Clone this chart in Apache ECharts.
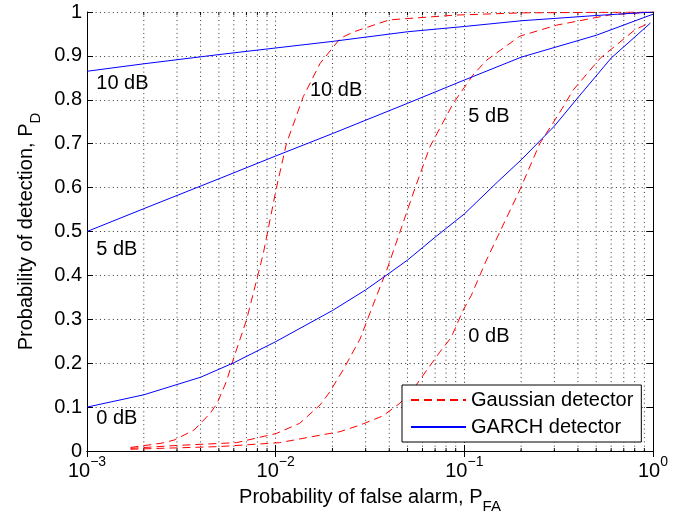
<!DOCTYPE html>
<html>
<head>
<meta charset="utf-8">
<script src="https://cdn.jsdelivr.net/npm/echarts@6/dist/echarts.min.js"></script>
<style>html,body{margin:0;padding:0;background:#fff}#c{width:685px;height:520px}</style>
</head>
<body>
<div id="c"></div>
<script>
// ---- data ----
const garch10X = [0.001,0.002,0.005,0.01,0.02,0.05,0.1,0.2,0.5,1];
const garch10Y = [0.865,0.882,0.903,0.918,0.933,0.955,0.967,0.980,0.992,1.0];
const garch5X  = [0.001,0.002,0.005,0.01,0.02,0.05,0.1,0.2,0.5,1];
const garch5Y  = [0.5,0.552,0.62,0.672,0.723,0.792,0.845,0.897,0.947,0.995];
const garch0X  = [0.001,0.002,0.004,0.006,0.01,0.02,0.03,0.04,0.05,0.07,0.1,0.15,0.2,0.3,0.4,0.6,0.97];
const garch0Y  = [0.1,0.128,0.168,0.201,0.249,0.32,0.367,0.405,0.435,0.487,0.54,0.613,0.663,0.74,0.805,0.895,0.975];

const gauss10X = [0.0017,0.0025,0.0029,0.0037,0.0045,0.0049,0.0055,0.0059,0.007,0.0081,0.0086,0.0101,0.0114,0.014,0.0172,0.022,0.026,0.04,0.09,0.2,1];
const gauss10Y = [0.008,0.018,0.025,0.048,0.086,0.109,0.16,0.203,0.298,0.405,0.45,0.6,0.7,0.807,0.883,0.94,0.955,0.982,0.993,0.998,1.0];
const gauss5X  = [0.0017,0.0031,0.0062,0.0101,0.0134,0.0172,0.0194,0.021,0.0228,0.028,0.0336,0.0388,0.0466,0.0547,0.0657,0.0873,0.111,0.131,0.197,0.308,0.6,1];
const gauss5Y  = [0.006,0.013,0.019,0.04,0.063,0.105,0.135,0.16,0.185,0.255,0.344,0.412,0.511,0.598,0.693,0.792,0.856,0.89,0.945,0.97,0.994,1.0];
const gauss0X  = [0.0017,0.005,0.0105,0.0172,0.0219,0.028,0.037,0.0456,0.0559,0.074,0.085,0.0986,0.109,0.131,0.197,0.251,0.33,0.377,0.526,0.805,0.96];
const gauss0Y  = [0.004,0.01,0.019,0.036,0.044,0.059,0.08,0.109,0.152,0.225,0.258,0.321,0.355,0.435,0.595,0.70,0.78,0.822,0.895,0.96,0.975];

const annoX    = [0.00112,0.00112,0.00112,0.0152,0.105,0.105];
const annoY    = [0.837,0.46,0.073,0.822,0.761,0.261];
const annoText = ['10 dB','5 dB','0 dB','10 dB','5 dB','0 dB'];

const minorTicks = [0.002,0.003,0.004,0.005,0.006,0.007,0.008,0.009,
                    0.02,0.03,0.04,0.05,0.06,0.07,0.08,0.09,
                    0.2,0.3,0.4,0.5,0.6,0.7,0.8,0.9];
const legendNames = ['Gaussian detector','GARCH detector'];

// ---- chart ----
const FONT = 'Liberation Sans';
const zip = (xs, ys) => xs.map((x, i) => [x, ys[i]]);
const chart = echarts.init(document.getElementById('c'), null, {renderer: 'canvas'});

const gaussStyle = {color: '#ff0000', width: 1, type: [8, 5]};
const garchStyle = {color: '#0000ff', width: 1, type: 'solid'};
function lineSeries(name, xs, ys, style) {
  return {
    name: name, type: 'line', data: zip(xs, ys), showSymbol: false, symbol: 'none',
    lineStyle: style, itemStyle: {color: style.color}, smooth: false,
    z: 3, silent: true
  };
}

const dotted = {color: '#333', width: 1, type: [1, 3.3]};

const option = {
  animation: false,
  textStyle: {fontFamily: FONT},
  grid: {left: 87, right: 32, top: 12, bottom: 69},
  xAxis: [{
    type: 'log', logBase: 10, min: 0.001, max: 1, position: 'bottom',
    axisLine: {show: true, lineStyle: {color: '#000', width: 1}},
    axisTick: {show: true, inside: true, length: 6, lineStyle: {color: '#000'}},
    splitLine: {show: true, lineStyle: dotted},
    axisLabel: {
      show: true, margin: 8, showMinLabel: true, showMaxLabel: true,
      formatter: function (v) {
        const e = Math.round(Math.log10(v));
        return '{b|10}{e|' + (e < 0 ? '\u2212' : '') + Math.abs(e) + '}';
      },
      rich: {
        b: {fontSize: 20, fontFamily: FONT, color: '#000', lineHeight: 22, verticalAlign: 'bottom'},
        e: {fontSize: 14, fontFamily: FONT, color: '#000', lineHeight: 14, verticalAlign: 'bottom', padding: [0, 0, 12, 0]}
      }
    },
    name: 'Probability of false alarm, P{s|FA}',
    nameLocation: 'middle', nameGap: 35,
    nameTextStyle: {
      fontSize: 20, fontFamily: FONT, color: '#000', lineHeight: 22, verticalAlign: 'top',
      rich: {s: {fontSize: 15, fontFamily: FONT, color: '#000', lineHeight: 15, verticalAlign: 'top', padding: [13, 0, 0, 0]}}
    }
  }, {
    type: 'log', logBase: 10, min: 0.001, max: 1, position: 'top',
    axisLine: {show: true, lineStyle: {color: '#000', width: 1}},
    axisTick: {show: true, inside: true, length: 6, lineStyle: {color: '#000'}},
    axisLabel: {show: false}, splitLine: {show: false}
  }],
  yAxis: [{
    type: 'value', min: 0, max: 1, interval: 0.1, position: 'left',
    axisLine: {show: true, lineStyle: {color: '#000', width: 1}},
    axisTick: {show: true, inside: true, length: 6, lineStyle: {color: '#000'}},
    splitLine: {show: true, lineStyle: dotted},
    axisLabel: {
      show: true, margin: 5, fontSize: 20, fontFamily: FONT, color: '#000',
      formatter: function (v) { return String(Math.round(v * 10) / 10); }
    },
    name: 'Probability of detection, P{s|D}',
    nameLocation: 'middle', nameGap: 43,
    nameTextStyle: {
      fontSize: 20, fontFamily: FONT, color: '#000', lineHeight: 22, verticalAlign: 'top',
      rich: {s: {fontSize: 15, fontFamily: FONT, color: '#000', lineHeight: 15, verticalAlign: 'top', padding: [13, 0, 0, 0]}}
    }
  }, {
    type: 'value', min: 0, max: 1, interval: 0.1, position: 'right',
    axisLine: {show: true, lineStyle: {color: '#000', width: 1}},
    axisTick: {show: true, inside: true, length: 6, lineStyle: {color: '#000'}},
    axisLabel: {show: false}, splitLine: {show: false}
  }],
  legend: {
    data: legendNames, orient: 'vertical', left: 402, top: 385,
    itemWidth: 55, itemHeight: 14, itemGap: 5, padding: [4, 8, 4, 8],
    borderColor: '#000', borderWidth: 1, backgroundColor: '#fff', borderRadius: 0,
    selectedMode: false,
    itemStyle: {opacity: 0},
    textStyle: {fontSize: 20, fontFamily: FONT, color: '#000', lineHeight: 22}
  },
  series: [
    {
      name: 'minor', type: 'custom', silent: true, z: 1, clip: false,
      xAxisIndex: 0, yAxisIndex: 0,
      data: minorTicks.map(v => [v, 0]),
      encode: {x: 0, y: 1},
      renderItem: function (params, api) {
        const v = api.value(0);
        const b = api.coord([v, 0]);
        const t = api.coord([v, 1]);
        return {
          type: 'group', children: [
            {type: 'line', shape: {x1: b[0], y1: b[1], x2: t[0], y2: t[1]}, style: {stroke: '#333', lineWidth: 1, lineDash: [1, 3.3]}},
            {type: 'line', shape: {x1: b[0], y1: b[1], x2: b[0], y2: b[1] - 3}, style: {stroke: '#000', lineWidth: 1}},
            {type: 'line', shape: {x1: t[0], y1: t[1], x2: t[0], y2: t[1] + 3}, style: {stroke: '#000', lineWidth: 1}}
          ]
        };
      }
    },
    lineSeries(legendNames[0], gauss10X, gauss10Y, gaussStyle),
    lineSeries(legendNames[0], gauss5X, gauss5Y, gaussStyle),
    lineSeries(legendNames[0], gauss0X, gauss0Y, gaussStyle),
    lineSeries(legendNames[1], garch10X, garch10Y, garchStyle),
    lineSeries(legendNames[1], garch5X, garch5Y, garchStyle),
    lineSeries(legendNames[1], garch0X, garch0Y, garchStyle),
    {
      name: 'labels', type: 'scatter', silent: true, symbolSize: 0, z: 4,
      itemStyle: {opacity: 1, color: '#000'},
      data: annoX.map((x, i) => ({value: [x, annoY[i]], name: annoText[i]})),
      label: {show: true, position: 'right', distance: 0, formatter: '{b}', fontSize: 20, fontFamily: FONT, color: '#000', opacity: 1}
    }
  ]
};
chart.setOption(option);
</script>
</body>
</html>
